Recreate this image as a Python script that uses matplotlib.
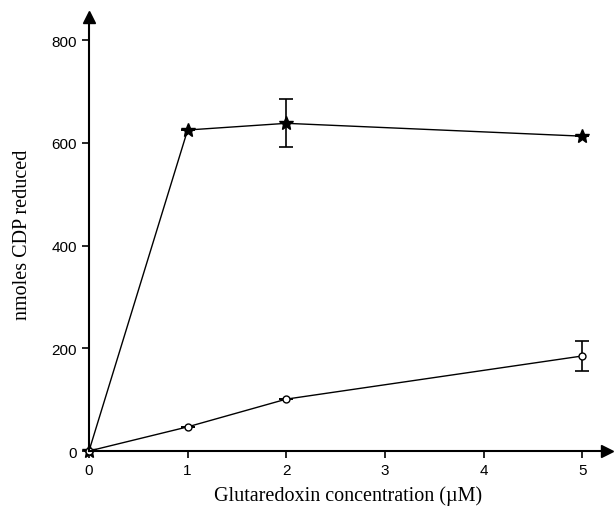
import numpy as np
import matplotlib.pyplot as plt

# glutaredoxin concentration (uM)
conc = [0, 1, 2, 5]
# filled markers series
filled_y = [0, 625, 638, 613]
filled_err = [0, 0, 47, 0]
# open markers series
open_y = [0, 47, 101, 185]
open_err = [0, 0, 0, 30]

xticks = [0, 1, 2, 3, 4, 5]
yticks = [0, 200, 400, 600, 800]

fig = plt.figure(figsize=(6.15, 5.1), dpi=100)
ax = fig.add_axes([0.1447, 0.1137, 0.842, 0.851])

l1 = ax.errorbar(conc, filled_y, yerr=filled_err, color='black', lw=1.0,
                 marker='*', ms=10, mfc='black', mec='black',
                 elinewidth=1.2, capsize=5, capthick=1.2)
l2 = ax.errorbar(conc, open_y, yerr=open_err, color='black', lw=1.0,
                 marker='o', ms=5, mfc='white', mec='black',
                 elinewidth=1.2, capsize=5, capthick=1.2)
for c in [l1, l2]:
    c[0].set_clip_on(False)

ax.set_xlim(0, 5.25)
ax.set_ylim(0, 845)
ax.set_xticks(xticks)
ax.set_yticks(yticks)

for s in ['top', 'right']:
    ax.spines[s].set_visible(False)
for s in ['left', 'bottom']:
    ax.spines[s].set_linewidth(1.5)

ax.tick_params(axis='both', direction='out', length=5, width=1.2,
               labelsize=11)
for lab in ax.get_xticklabels() + ax.get_yticklabels():
    lab.set_family('Liberation Sans')

# arrow heads at axis ends
ax.plot(1, 0, '>', color='black', ms=9, transform=ax.transAxes, clip_on=False)
ax.plot(0, 1, '^', color='black', ms=9, transform=ax.transAxes, clip_on=False)

ax.set_xlabel('Glutaredoxin concentration (µM)', family='Liberation Serif',
              fontsize=14.5, labelpad=6)
ax.set_ylabel('nmoles CDP reduced', family='Liberation Serif',
              fontsize=14.5, labelpad=14)

fig.savefig('out.png', dpi=100)
